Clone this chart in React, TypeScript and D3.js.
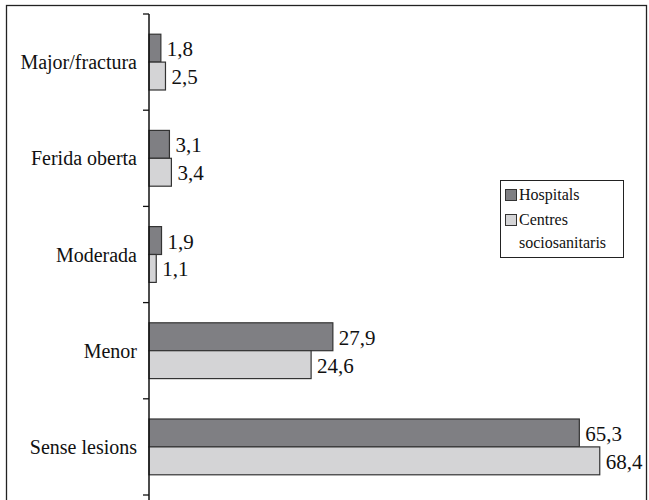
import React from "react";
import * as d3 from "d3";

const categories = ["Major/fractura", "Ferida oberta", "Moderada", "Menor", "Sense lesions"];
const hospitals = [1.8, 3.1, 1.9, 27.9, 65.3];
const centres = [2.5, 3.4, 1.1, 24.6, 68.4];
const seriesNames = ["Hospitals", "Centres sociosanitaris"];
const seriesColors = ["#7f7f83", "#d4d4d6"];

const fmt = (v: number) => v.toFixed(1).replace(".", ",");
const FONT = "Liberation Serif, Tinos, Times New Roman, Times, Noto Serif, DejaVu Serif, serif";

function T(props: any) {
  const { children, ...rest } = props;
  return (
    <text style={{ fontFamily: FONT }} fill="#111" {...rest}>
      {children}
    </text>
  );
}

export default function App() {
  const W = 649, H = 500;
  const axisX = 149;
  const top = 14, bottom = 495;
  const x = d3.scaleLinear().domain([0, 75]).range([axisX, axisX + 6.59 * 75]);
  const y = d3.scaleBand<string>().domain(categories).range([top, bottom]).paddingInner(0.42).paddingOuter(0.21);
  const sub = d3.scaleBand<string>().domain(["h", "c"]).range([0, y.bandwidth()]);
  const step = (bottom - top) / categories.length;
  const tickYs = d3.range(categories.length + 1).map((i) => top + i * step);
  return (
    <svg width={W} height={H} style={{ position: "absolute", left: 0, top: 0 }}>
      <rect x={6.5} y={5.5} width={640} height={500} fill="white" stroke="#222" strokeWidth={1.3} />
      {categories.map((c, i) => {
        const y0 = y(c)!;
        const vals = [hospitals[i], centres[i]];
        return (
          <g key={c}>
            {vals.map((v, j) => {
              const by = y0 + sub(j === 0 ? "h" : "c")!;
              const bh = sub.bandwidth();
              return (
                <g key={j}>
                  <rect x={axisX} y={by} width={x(v) - axisX} height={bh} fill={seriesColors[j]} stroke="#333" strokeWidth={1.2} />
                  <T x={x(v) + 6} y={by + bh / 2 + 8} fontSize={21}>{fmt(v)}</T>
                </g>
              );
            })}
            <T x={137} y={top + step * i + step / 2 + 7} fontSize={20} textAnchor="end">{c}</T>
          </g>
        );
      })}
      <line x1={axisX} x2={axisX} y1={top} y2={H} stroke="#111" strokeWidth={1.5} />
      {tickYs.map((t, i) => (
        <line key={i} x1={axisX - 6} x2={axisX} y1={t} y2={t} stroke="#111" strokeWidth={1.3} />
      ))}
      <rect x={500.5} y={180.5} width={123} height={77} fill="white" stroke="#222" strokeWidth={1} />
      <rect x={505.5} y={189.5} width={11} height={11} fill={seriesColors[0]} stroke="#333" strokeWidth={1} />
      <T x={519} y={200} fontSize={16}>{seriesNames[0]}</T>
      <rect x={505.5} y={214.5} width={11} height={11} fill={seriesColors[1]} stroke="#333" strokeWidth={1} />
      <T x={519} y={225} fontSize={16}>Centres</T>
      <T x={519} y={248} fontSize={16}>sociosanitaris</T>
    </svg>
  );
}
